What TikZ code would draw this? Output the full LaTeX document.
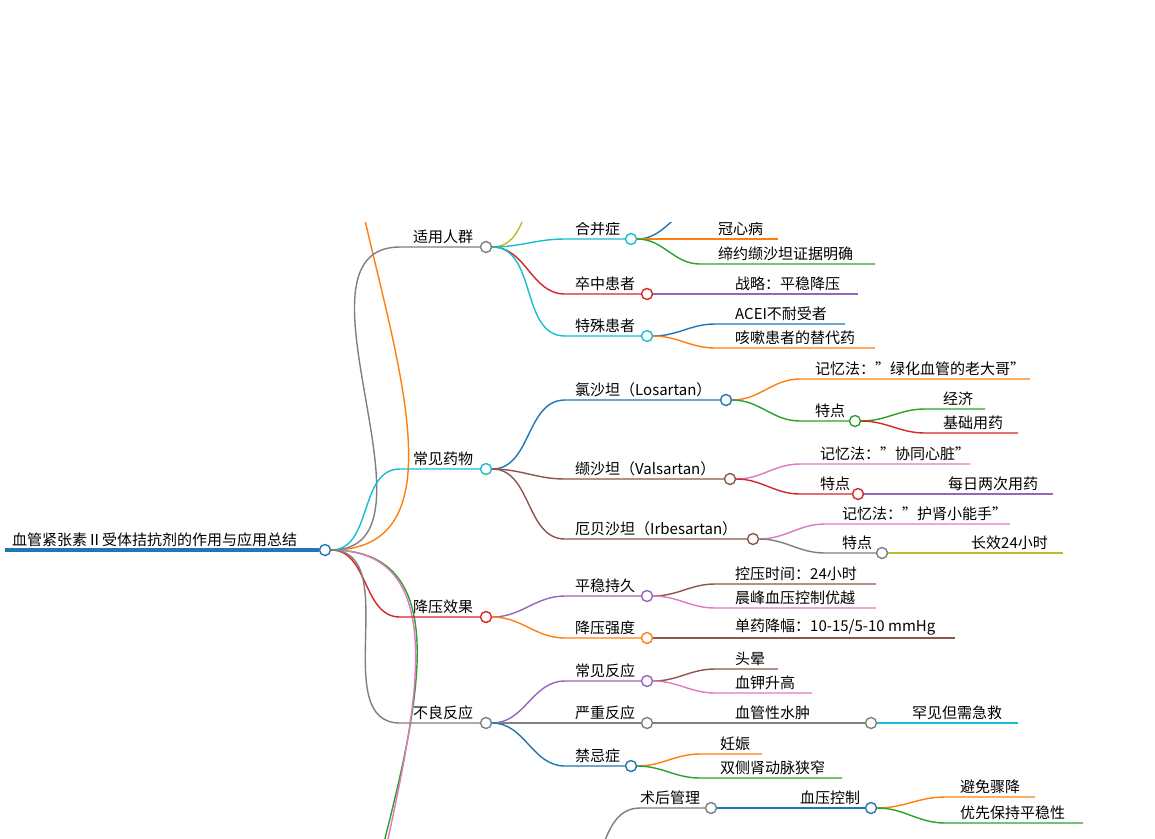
\documentclass[tikz,border=0pt]{standalone}
\usepackage{fontspec}
\setmainfont{Noto Sans CJK SC}
\definecolor{cB}{HTML}{1F77B4}\definecolor{cO}{HTML}{FF7F0E}\definecolor{cG}{HTML}{2CA02C}
\definecolor{cR}{HTML}{D62728}\definecolor{cP}{HTML}{9467BD}\definecolor{cBr}{HTML}{8C564B}
\definecolor{cPk}{HTML}{E377C2}\definecolor{cGy}{HTML}{7F7F7F}\definecolor{cOl}{HTML}{BCBD22}
\definecolor{cC}{HTML}{17BECF}
\tikzset{br/.style={line width=1.4pt},
 dot/.style={circle,fill=white,line width=1.4pt,inner sep=0pt,minimum size=11pt},
 lbl/.style={anchor=south west,inner sep=0pt,yshift=3pt,font=\fontsize{15}{18}\selectfont}}
\newcommand\mmnode[8]{\coordinate (#3s) at (#4,#5); \node[dot,draw=#1] (#3) at (#6,#5) {};
 \draw[br,#1] (#2.east) to[out=0,in=180] (#3s) -- (#3.west); \node[lbl] (#3t) at (#7,#5) {#8};}
\newcommand\mmleaf[8]{\coordinate (#3s) at (#4,#5); \coordinate (#3) at (#6,#5);
 \draw[br,#1] (#2.east) to[out=0,in=180] (#3s) -- (#3); \node[lbl] (#3t) at (#7,#5) {#8};}
\begin{document}
\begin{tikzpicture}[x=1pt,y=-1pt]
\useasboundingbox (0,0) rectangle (1155,838);
\fill[white] (0,0) rectangle (1155,838);
\clip (0,222) rectangle (1155,838);
% root
\node[dot,draw=cB] (root) at (325,550) {};
\draw[cB,line width=4pt] (5,550) -- (root.west);
\node[lbl] (roott) at (12,550) {血管紧张素Ⅱ受体拮抗剂的作用与应用总结};
% off-canvas branches
\coordinate (offA) at (420,-20);
\coordinate (offB) at (420,1200);
\coordinate (offC) at (440,1150);
\draw[br,cO] (root.east) to[out=0,in=180] (offA);
\draw[br,cG] (root.east) to[out=0,in=180] (offB);
\draw[br,cPk] (root.east) to[out=0,in=180] (offC);
% level 1
\mmnode{cGy}{root}{a}{400}{247}{486}{413}{适用人群}
\mmnode{cC}{root}{b}{400}{469}{486}{413}{常见药物}
\mmnode{cR}{root}{c}{400}{617}{486}{413}{降压效果}
\mmnode{cGy}{root}{d}{400}{723}{486}{413}{不良反应}
% 适用人群
\coordinate (offD) at (565,160);
\draw[br,cOl] (a.east) to[out=0,in=180] (offD);
\mmnode{cC}{a}{a1}{565}{239}{631}{575}{合并症}
\coordinate (offE) at (705,205);
\draw[br,cB] (a1.east) to[out=0,in=180] (offE);
\mmleaf{cO}{a1}{a11}{700}{239}{778}{718}{冠心病}
\mmleaf{cG}{a1}{a12}{700}{264}{875}{718}{缔约缬沙坦证据明确}
\mmnode{cR}{a}{a2}{565}{294}{647}{575}{卒中患者}
\mmleaf{cP}{a2}{a21}{715}{294}{858}{735}{战略：平稳降压}
\mmnode{cC}{a}{a3}{565}{336}{647}{575}{特殊患者}
\mmleaf{cB}{a3}{a31}{715}{324}{845}{735}{ACEI不耐受者}
\mmleaf{cO}{a3}{a32}{715}{348}{875}{735}{咳嗽患者的替代药}
% 常见药物
\mmnode{cB}{b}{b1}{565}{400}{726}{575}{氯沙坦（Losartan）}
\mmleaf{cO}{b1}{b11}{800}{379}{1030}{815}{记忆法："绿化血管的老大哥"}
\mmnode{cG}{b1}{b12}{800}{421}{855}{815}{特点}
\mmleaf{cG}{b12}{b121}{925}{409}{985}{943}{经济}
\mmleaf{cR}{b12}{b122}{925}{433}{1018}{943}{基础用药}
\mmnode{cBr}{b}{b2}{565}{479}{730}{575}{缬沙坦（Valsartan）}
\mmleaf{cPk}{b2}{b21}{800}{464}{970}{820}{记忆法："协同心脏"}
\mmnode{cR}{b2}{b22}{800}{494}{858}{820}{特点}
\mmleaf{cP}{b22}{b221}{930}{494}{1053}{948}{每日两次用药}
\mmnode{cBr}{b}{b3}{565}{539}{753}{575}{厄贝沙坦（Irbesartan）}
\mmleaf{cPk}{b3}{b31}{825}{524}{1010}{842}{记忆法："护肾小能手"}
\mmnode{cGy}{b3}{b32}{825}{553}{882}{842}{特点}
\mmleaf{cOl}{b32}{b321}{955}{553}{1063}{971}{长效24小时}
% 降压效果
\mmnode{cP}{c}{c1}{565}{596}{647}{575}{平稳持久}
\mmleaf{cBr}{c1}{c11}{715}{584}{876}{735}{控压时间：24小时}
\mmleaf{cPk}{c1}{c12}{715}{608}{876}{735}{晨峰血压控制优越}
\mmnode{cO}{c}{c2}{565}{638}{647}{575}{降压强度}
\mmleaf{cBr}{c2}{c21}{715}{638}{955}{735}{单药降幅：10-15/5-10 mmHg}
% 不良反应
\mmnode{cP}{d}{d1}{565}{681}{647}{575}{常见反应}
\mmleaf{cBr}{d1}{d11}{715}{669}{778}{735}{头晕}
\mmleaf{cPk}{d1}{d12}{715}{693}{812}{735}{血钾升高}
\mmnode{cGy}{d}{d2}{565}{723}{647}{575}{严重反应}
\mmnode{cGy}{d2}{d21}{715}{723}{871}{735}{血管性水肿}
\mmleaf{cC}{d21}{d211}{900}{723}{1018}{912}{罕见但需急救}
\mmnode{cB}{d}{d3}{565}{766}{631}{575}{禁忌症}
\mmleaf{cO}{d3}{d31}{700}{754}{762}{720}{妊娠}
\mmleaf{cG}{d3}{d32}{700}{778}{842}{720}{双侧肾动脉狭窄}
% 术后管理
\coordinate (offF) at (560,900);
\node[dot,draw=cGy] (e1) at (711,808) {};
\coordinate (e1s) at (640,808);
\draw[br,cGy] (offF) to[out=0,in=180] (e1s) -- (e1.west);
\node[lbl] (e1t) at (640,808) {术后管理};
\mmnode{cB}{e1}{e11}{780}{808}{871}{800}{血压控制}
\mmleaf{cO}{e11}{e111}{945}{797}{1035}{960}{避免骤降}
\mmleaf{cG}{e11}{e112}{945}{823}{1083}{960}{优先保持平稳性}
\end{tikzpicture}
\end{document}
